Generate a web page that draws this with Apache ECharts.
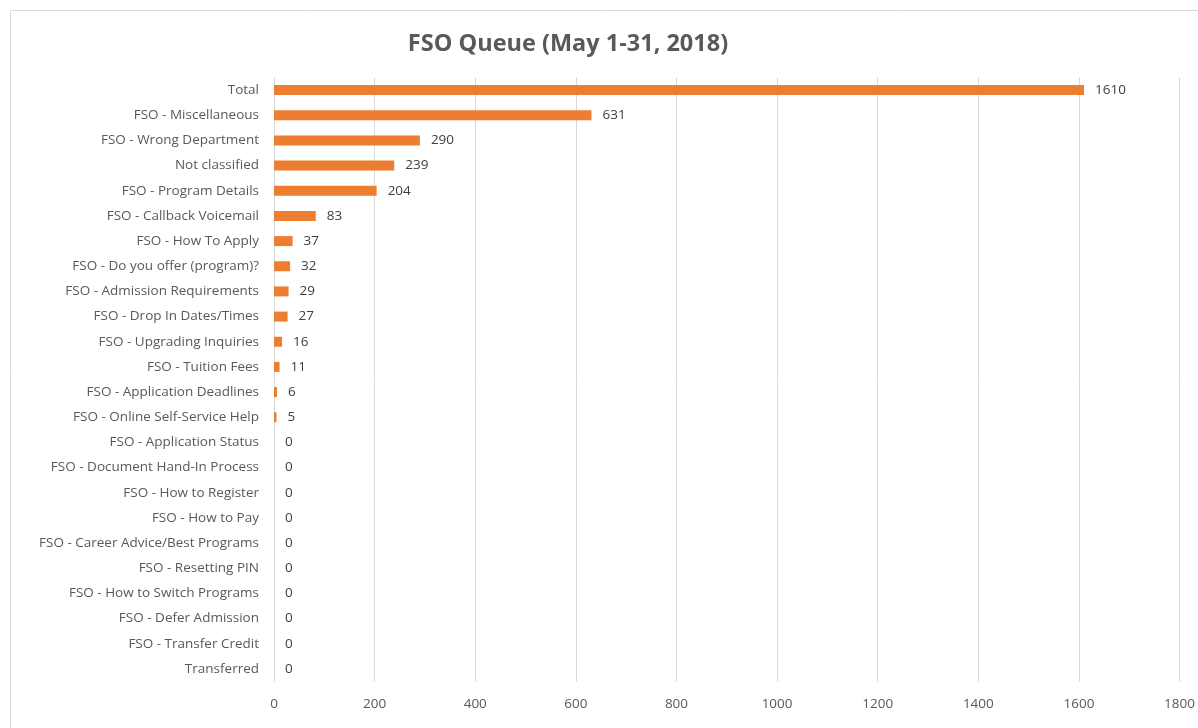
<!DOCTYPE html>
<html><head><meta charset="utf-8">
<script src="https://cdn.jsdelivr.net/npm/echarts@6/dist/echarts.min.js"></script>
<style>html,body{margin:0;padding:0;background:#fff}#c{width:1198px;height:728px}</style>
</head><body><div id="c"></div>
<script>
const categories = ["Total","FSO - Miscellaneous","FSO - Wrong Department","Not classified","FSO - Program Details","FSO - Callback Voicemail","FSO - How To Apply","FSO - Do you offer (program)?","FSO - Admission Requirements","FSO - Drop In Dates/Times","FSO - Upgrading Inquiries","FSO - Tuition Fees","FSO - Application Deadlines","FSO - Online Self-Service Help","FSO - Application Status","FSO - Document Hand-In Process","FSO - How to Register","FSO - How to Pay","FSO - Career Advice/Best Programs","FSO - Resetting PIN","FSO - How to Switch Programs","FSO - Defer Admission","FSO - Transfer Credit","Transferred"];
const values = [1610,631,290,239,204,83,37,32,29,27,16,11,6,5,0,0,0,0,0,0,0,0,0,0];
const axisMin = 0, axisMax = 1800, axisStep = 200;
const titleText = "FSO Queue (May 1-31, 2018)";

const chart = echarts.init(document.getElementById('c'));
const font = 'Open Sans';
chart.setOption({
  animation:false,
  textStyle:{fontFamily:font},
  title:{text:titleText,left:563,top:27,textAlign:'center',
    textStyle:{fontFamily:font,fontSize:23.5,fontWeight:'bold',color:'#595959'}},
  graphic:[{type:'rect',shape:{x:10.5,y:10.5,width:1300,height:800},
    style:{fill:'none',stroke:'#D9D9D9',lineWidth:1},silent:true}],
  grid:{left:274,right:13,top:77.5,bottom:46.5,containLabel:false},
  xAxis:{type:'value',min:axisMin,max:axisMax,interval:axisStep,
    axisLine:{show:false},axisTick:{show:false},
    axisLabel:{color:'#595959',fontSize:13.5,margin:16,fontFamily:font,
      formatter:v=>String(v)},
    splitLine:{show:true,lineStyle:{color:'#D9D9D9',width:1}}},
  yAxis:{type:'category',data:categories,inverse:true,
    axisLine:{show:false},axisTick:{show:false},
    axisLabel:{color:'#595959',fontSize:13.5,margin:15,fontFamily:font}},
  series:[{type:'bar',data:values,barWidth:10,
    itemStyle:{color:'#ED7D31'},
    label:{show:true,position:'right',distance:11,color:'#404040',fontSize:13.5,fontFamily:font}}]
});
</script></body></html>
